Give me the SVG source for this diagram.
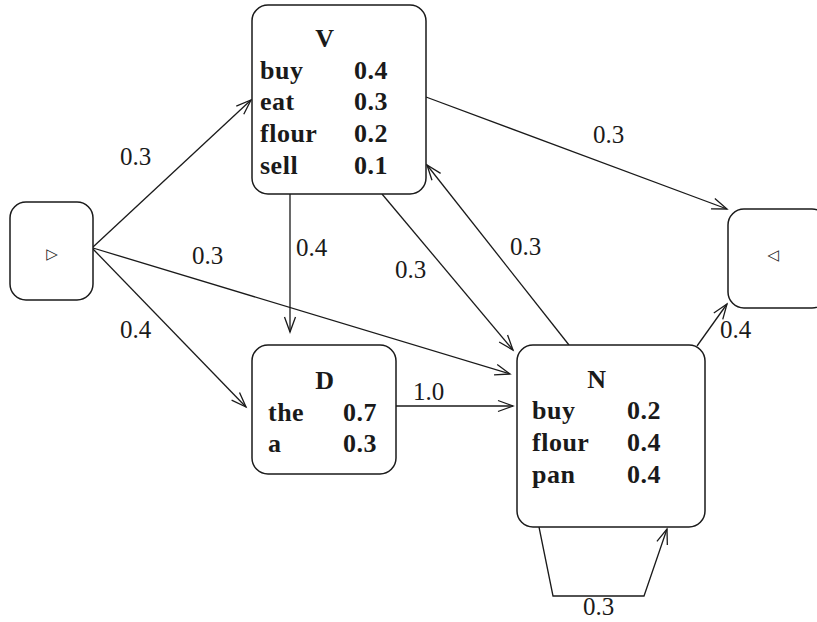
<svg xmlns="http://www.w3.org/2000/svg" width="817" height="622" viewBox="0 0 817 622">
  <style>
    .box { fill: #ffffff; stroke: #1a1a1a; stroke-width: 1.5; }
    .edge { fill: none; stroke: #1a1a1a; stroke-width: 1.3; }
    .lbl { font-family: "Liberation Serif", "DejaVu Serif", serif; font-size: 25px; fill: #1a1a1a; }
    .bold { font-family: "Liberation Serif", "DejaVu Serif", serif; font-size: 26px; font-weight: bold; fill: #1a1a1a; letter-spacing: 0.5px; }
    .sym { font-family: "DejaVu Sans", sans-serif; font-size: 15px; fill: #1a1a1a; text-anchor: middle; }
  </style>
  <defs>
    <marker id="arrow" markerUnits="userSpaceOnUse" markerWidth="20" markerHeight="14" viewBox="-16 -7 17 14" refX="0" refY="0" orient="auto">
      <path d="M-15,-5.5 L0,0 L-15,5.5" fill="none" stroke="#1a1a1a" stroke-width="1.3"/>
    </marker>
  </defs>

  <!-- connectors -->
  <g id="edges">
    <line class="edge" x1="93" y1="247" x2="251" y2="100" marker-end="url(#arrow)"/>
    <line class="edge" x1="93" y1="249" x2="246" y2="407" marker-end="url(#arrow)"/>
    <line class="edge" x1="93" y1="248" x2="510" y2="374" marker-end="url(#arrow)"/>
    <line class="edge" x1="290" y1="194" x2="290" y2="332" marker-end="url(#arrow)"/>
    <line class="edge" x1="382" y1="194" x2="513" y2="350" marker-end="url(#arrow)"/>
    <line class="edge" x1="569" y1="345" x2="427" y2="165" marker-end="url(#arrow)"/>
    <line class="edge" x1="426" y1="97" x2="727" y2="209" marker-end="url(#arrow)"/>
    <line class="edge" x1="697" y1="346" x2="727" y2="304" marker-end="url(#arrow)"/>
    <line class="edge" x1="396" y1="406" x2="513" y2="406" marker-end="url(#arrow)"/>
    <polyline class="edge" points="539,527 553,596 644,596 667,529" marker-end="url(#arrow)"/>

    <text class="lbl" x="120" y="165">0.3</text>
    <text class="lbl" x="120" y="338">0.4</text>
    <text class="lbl" x="192" y="264">0.3</text>
    <text class="lbl" x="296" y="256">0.4</text>
    <text class="lbl" x="395" y="278">0.3</text>
    <text class="lbl" x="510" y="255">0.3</text>
    <text class="lbl" x="593" y="143">0.3</text>
    <text class="lbl" x="413" y="400">1.0</text>
    <text class="lbl" x="720" y="338">0.4</text>
    <text class="lbl" x="583" y="615">0.3</text>
  </g>

  <!-- start state -->
  <g id="start">
    <rect class="box" x="10" y="202" width="83" height="98" rx="16"/>
    <text class="sym" x="52" y="259">▷</text>
  </g>

  <!-- end state -->
  <g id="end">
    <rect class="box" x="728" y="209" width="100" height="99" rx="16"/>
    <text class="sym" x="773" y="260">◁</text>
  </g>

  <!-- V node -->
  <g id="V">
    <rect class="box" x="252" y="5" width="174" height="189" rx="16"/>
    <text class="bold" x="325" y="47" text-anchor="middle">V</text>
    <text class="bold" x="260" y="79">buy</text>
    <text class="bold" x="354" y="79">0.4</text>
    <text class="bold" x="260" y="110">eat</text>
    <text class="bold" x="354" y="110">0.3</text>
    <text class="bold" x="260" y="142">flour</text>
    <text class="bold" x="354" y="142">0.2</text>
    <text class="bold" x="260" y="174">sell</text>
    <text class="bold" x="354" y="174">0.1</text>
  </g>

  <!-- D node -->
  <g id="D">
    <rect class="box" x="252" y="345" width="144" height="129" rx="16"/>
    <text class="bold" x="325" y="389" text-anchor="middle">D</text>
    <text class="bold" x="268" y="421">the</text>
    <text class="bold" x="343" y="421">0.7</text>
    <text class="bold" x="268" y="452">a</text>
    <text class="bold" x="343" y="452">0.3</text>
  </g>

  <!-- N node -->
  <g id="N">
    <rect class="box" x="517" y="345" width="188" height="182" rx="16"/>
    <text class="bold" x="597" y="388" text-anchor="middle">N</text>
    <text class="bold" x="532" y="419">buy</text>
    <text class="bold" x="627" y="419">0.2</text>
    <text class="bold" x="532" y="451">flour</text>
    <text class="bold" x="627" y="451">0.4</text>
    <text class="bold" x="532" y="483">pan</text>
    <text class="bold" x="627" y="483">0.4</text>
  </g>
</svg>
